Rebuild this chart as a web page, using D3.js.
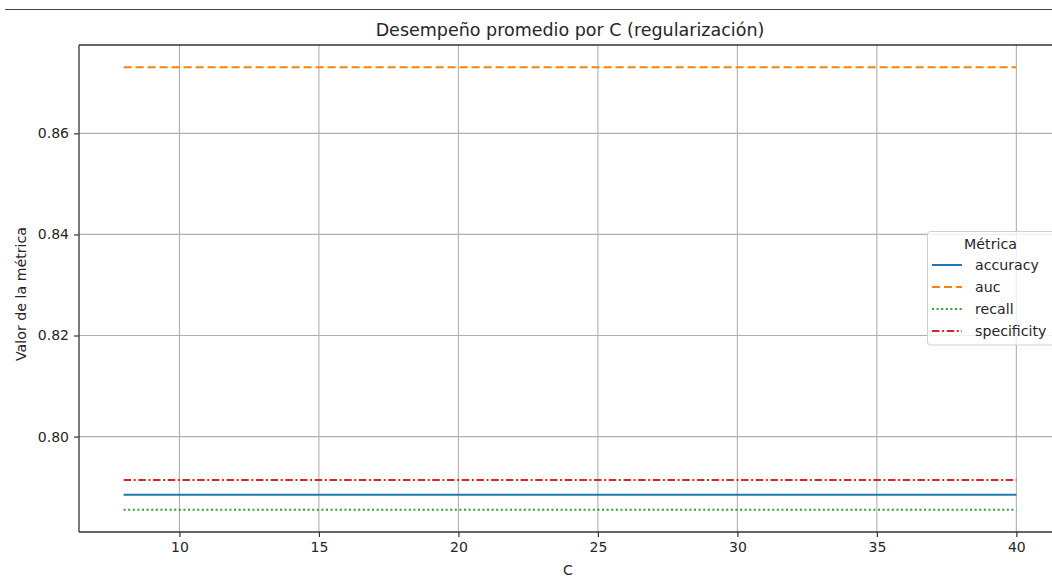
<!DOCTYPE html>
<html>
<head>
<meta charset="utf-8">
<script src="https://cdn.jsdelivr.net/npm/d3@7"></script>
<style>
  html, body { margin: 0; padding: 0; background: #fff; }
  svg { display: block; }
  text { font-family: "DejaVu Sans", sans-serif; fill: #262626; }
</style>
</head>
<body>
<svg id="chart" width="1052" height="579"></svg>
<script>
// Regularization strengths evaluated
const cValues = [8, 16, 24, 32, 40];

// Mean metric per C
const accuracy    = [0.7885, 0.7885, 0.7885, 0.7885, 0.7885];
const auc         = [0.8731, 0.8731, 0.8731, 0.8731, 0.8731];
const recall      = [0.7855, 0.7855, 0.7855, 0.7855, 0.7855];
const specificity = [0.7914, 0.7914, 0.7914, 0.7914, 0.7914];

const xTicks = [10, 15, 20, 25, 30, 35, 40];
const yTicks = [0.80, 0.82, 0.84, 0.86];

const series = [
  { name: "accuracy",    values: accuracy,    color: "#1f77b4", dash: null },
  { name: "auc",         values: auc,         color: "#ff7f0e", dash: "8,4" },
  { name: "recall",      values: recall,      color: "#2ca02c", dash: "2,2.6" },
  { name: "specificity", values: specificity, color: "#d62728", dash: "7.5,2.6,2,2.6" }
];

const svg = d3.select("#chart");
const W = 1052;

// plot frame
const frame = { left: 79, top: 45, bottom: 532, right: 1061 };

// matplotlib-style 5% margins
const xmin = d3.min(cValues), xmax = d3.max(cValues);
const xpad = (xmax - xmin) * 0.05;
const allY = series.flatMap(s => s.values);
const ymin = d3.min(allY), ymax = d3.max(allY);
const ypad = (ymax - ymin) * 0.05;

const x = d3.scaleLinear().domain([xmin - xpad, xmax + xpad]).range([frame.left, frame.right]);
const y = d3.scaleLinear().domain([ymin - ypad, ymax + ypad]).range([frame.bottom, frame.top]);

// header rule
svg.append("line")
  .attr("x1", 5).attr("x2", W).attr("y1", 9.5).attr("y2", 9.5)
  .attr("stroke", "#444").attr("stroke-width", 1);

// grid
const grid = svg.append("g").attr("stroke", "#b0b0b0").attr("stroke-width", 1.1);
xTicks.forEach(t => {
  grid.append("line").attr("x1", x(t)).attr("x2", x(t)).attr("y1", frame.top).attr("y2", frame.bottom);
});
yTicks.forEach(t => {
  grid.append("line").attr("x1", frame.left).attr("x2", frame.right).attr("y1", y(t)).attr("y2", y(t));
});

// series lines
const line = d3.line().x((d, i) => x(cValues[i])).y(d => y(d));
series.forEach(s => {
  svg.append("path")
    .datum(s.values)
    .attr("d", line)
    .attr("fill", "none")
    .attr("stroke", s.color)
    .attr("stroke-width", 2)
    .attr("stroke-dasharray", s.dash);
});

// axes
const xAxis = d3.axisBottom(x).tickValues(xTicks).tickSize(5).tickPadding(5).tickFormat(d3.format("d"));
const yAxis = d3.axisLeft(y).tickValues(yTicks).tickSize(5).tickPadding(5).tickFormat(d3.format(".2f"));

const gx = svg.append("g").attr("transform", `translate(0,${frame.bottom})`).call(xAxis);
const gy = svg.append("g").attr("transform", `translate(${frame.left},0)`).call(yAxis);
[gx, gy].forEach(g => {
  g.select(".domain").remove();
  g.selectAll(".tick line").attr("stroke", "#333").attr("stroke-width", 1.2);
  g.selectAll(".tick text").attr("font-size", 14).attr("fill", "#333")
    .style("font-family", "'DejaVu Sans', sans-serif");
});

// spines
const spine = svg.append("g").attr("stroke", "#333").attr("stroke-width", 1.3).attr("fill", "none");
spine.append("line").attr("x1", frame.left).attr("x2", frame.left).attr("y1", frame.top).attr("y2", frame.bottom);
spine.append("line").attr("x1", frame.left).attr("x2", W).attr("y1", frame.bottom).attr("y2", frame.bottom);
spine.append("line").attr("x1", frame.left).attr("x2", W).attr("y1", frame.top).attr("y2", frame.top);

// title & axis labels
svg.append("text")
  .attr("x", 570).attr("y", 36)
  .attr("text-anchor", "middle").attr("font-size", 17.5)
  .text("Desempeño promedio por C (regularización)");

svg.append("text")
  .attr("x", 568).attr("y", 575)
  .attr("text-anchor", "middle").attr("font-size", 14.2)
  .text("C");

svg.append("text")
  .attr("transform", "translate(26,294) rotate(-90)")
  .attr("text-anchor", "middle").attr("font-size", 14.2)
  .text("Valor de la métrica");

// legend
const lg = svg.append("g").attr("transform", "translate(927.5,231.5)");
lg.append("rect")
  .attr("width", 130).attr("height", 113.5).attr("rx", 3)
  .attr("fill", "#fff").attr("fill-opacity", 0.8)
  .attr("stroke", "#d0d0d0").attr("stroke-width", 1);
lg.append("text")
  .attr("x", 63).attr("y", 17)
  .attr("text-anchor", "middle").attr("font-size", 14.2)
  .text("Métrica");
series.forEach((s, i) => {
  const cy = 33.5 + i * 22;
  lg.append("line")
    .attr("x1", 4.5).attr("x2", 34.5).attr("y1", cy).attr("y2", cy)
    .attr("stroke", s.color).attr("stroke-width", 2)
    .attr("stroke-dasharray", s.dash);
  lg.append("text")
    .attr("x", 47.5).attr("y", cy + 5)
    .attr("font-size", 14.2)
    .text(s.name);
});
</script>
</body>
</html>
